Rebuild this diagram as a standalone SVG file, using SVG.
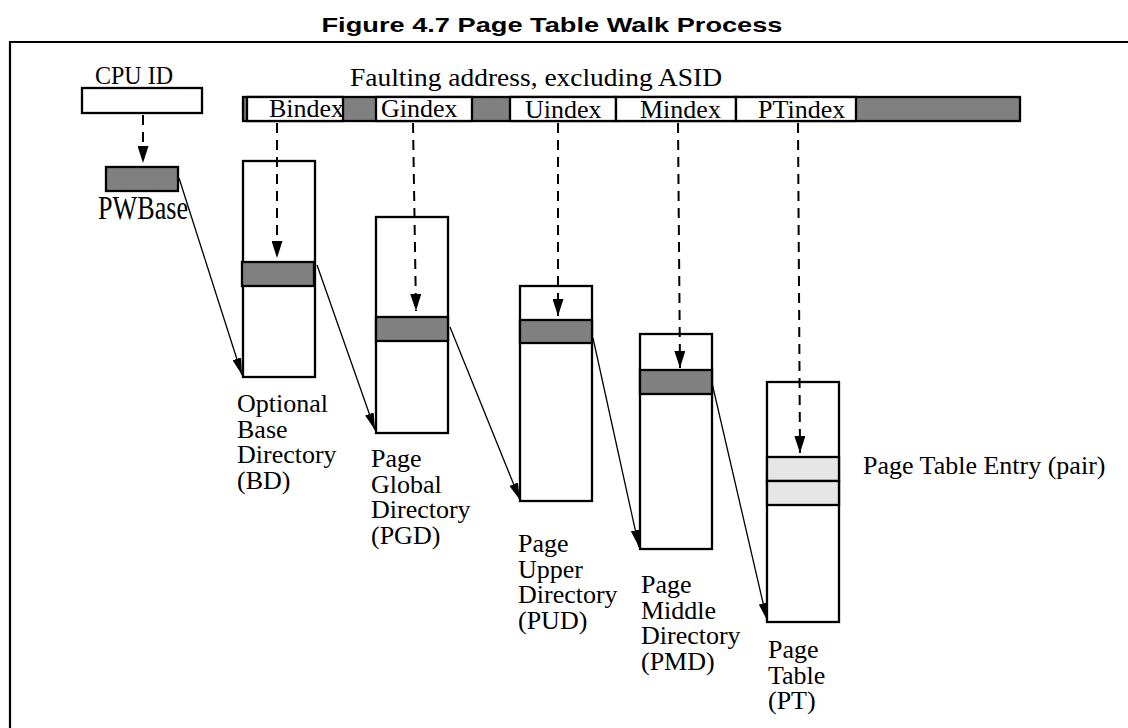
<svg xmlns="http://www.w3.org/2000/svg" width="1128" height="728" viewBox="0 0 1128 728">
<style>
.lbl{font-family:"Liberation Serif","Times New Roman",serif;font-size:26px;fill:#000}
.title{font-family:"Liberation Sans",Arial,sans-serif;font-size:21px;font-weight:bold;fill:#000}
.box{fill:#fff;stroke:#000;stroke-width:2.3}
.dark{fill:#808080;stroke:#000;stroke-width:2.3}
.light{fill:#e6e6e6;stroke:#000;stroke-width:2.3}
.dash{stroke:#000;stroke-width:2;stroke-dasharray:10 7;fill:none}
.ptr{stroke:#000;stroke-width:1.3;fill:none}
</style>
<defs>
<marker id="ah" viewBox="0 0 17 11" refX="17" refY="5.5" markerWidth="17" markerHeight="11" markerUnits="userSpaceOnUse" orient="auto">
<path d="M0,0 L17,5.5 L0,11 z" fill="#000"/>
</marker>
<marker id="ah2" viewBox="0 0 17 9" refX="17" refY="4.5" markerWidth="17" markerHeight="9" markerUnits="userSpaceOnUse" orient="auto">
<path d="M0,0 L17,4.5 L0,9 z" fill="#000"/>
</marker>
</defs>
<rect width="1128" height="728" fill="#fff"/>
<text class="title" x="552" y="32" text-anchor="middle" textLength="461" lengthAdjust="spacingAndGlyphs">Figure 4.7  Page Table Walk Process</text>
<path d="M10,729 V42 H1128" fill="none" stroke="#000" stroke-width="2.2"/>

<g id="cpuid">
<text class="lbl" x="95" y="84" textLength="78" lengthAdjust="spacingAndGlyphs">CPU ID</text>
<rect class="box" x="82" y="88" width="120" height="25"/>
</g>

<g id="address">
<text class="lbl" x="350" y="86" textLength="372" lengthAdjust="spacingAndGlyphs">Faulting address, excluding ASID</text>
<rect class="dark" x="243" y="97" width="777" height="24"/>
<rect class="box" x="247" y="97" width="96" height="24"/>
<rect class="box" x="376" y="97" width="96" height="24"/>
<rect class="box" x="510" y="97" width="106" height="24"/>
<rect class="box" x="616" y="97" width="120" height="24"/>
<rect class="box" x="736" y="97" width="120" height="24"/>
<text class="lbl" x="269" y="117">Bindex</text>
<text class="lbl" x="381" y="117">Gindex</text>
<text class="lbl" x="525" y="118">Uindex</text>
<text class="lbl" x="640" y="118">Mindex</text>
<text class="lbl" x="758" y="118">PTindex</text>
</g>

<g id="pwbase">
<rect class="dark" x="106" y="167" width="72" height="24"/>
<text class="lbl" x="98" y="219" style="font-size:34px" textLength="90" lengthAdjust="spacingAndGlyphs">PWBase</text>
</g>

<g id="bd">
<rect class="box" x="243" y="161" width="72" height="216"/>
<rect class="dark" x="242" y="262" width="72" height="24"/>
<text class="lbl" x="237" y="412"><tspan x="237">Optional</tspan><tspan x="237" dy="25.5">Base</tspan><tspan x="237" dy="25.5">Directory</tspan><tspan x="237" dy="25.5">(BD)</tspan></text>
</g>

<g id="pgd">
<rect class="box" x="376" y="217" width="72" height="216"/>
<rect class="dark" x="376" y="317" width="72" height="24"/>
<text class="lbl" x="371" y="467"><tspan x="371">Page</tspan><tspan x="371" dy="25.5">Global</tspan><tspan x="371" dy="25.5">Directory</tspan><tspan x="371" dy="25.5">(PGD)</tspan></text>
</g>

<g id="pud">
<rect class="box" x="520" y="286" width="72" height="215"/>
<rect class="dark" x="520" y="320" width="72" height="23"/>
<text class="lbl" x="518" y="552"><tspan x="518">Page</tspan><tspan x="518" dy="25.5">Upper</tspan><tspan x="518" dy="25.5">Directory</tspan><tspan x="518" dy="25.5">(PUD)</tspan></text>
</g>

<g id="pmd">
<rect class="box" x="640" y="334" width="72" height="215"/>
<rect class="dark" x="640" y="370" width="72" height="24"/>
<text class="lbl" x="641" y="593"><tspan x="641">Page</tspan><tspan x="641" dy="25.5">Middle</tspan><tspan x="641" dy="25.5">Directory</tspan><tspan x="641" dy="25.5">(PMD)</tspan></text>
</g>

<g id="pt">
<rect class="box" x="767" y="382" width="72" height="240"/>
<rect class="light" x="767" y="457" width="72" height="24"/>
<rect class="light" x="767" y="481" width="72" height="24"/>
<text class="lbl" x="768" y="658"><tspan x="768">Page</tspan><tspan x="768" dy="25.5">Table</tspan><tspan x="768" dy="25.5">(PT)</tspan></text>
<text class="lbl" x="863" y="474">Page Table Entry (pair)</text>
</g>

<g id="connectors">
<line class="dash" x1="143" y1="115" x2="143" y2="163" marker-end="url(#ah)"/>
<line class="dash" x1="277" y1="123" x2="277" y2="258" marker-end="url(#ah)"/>
<line class="dash" x1="413" y1="123" x2="416" y2="311" marker-end="url(#ah)"/>
<line class="dash" x1="558" y1="123" x2="558" y2="316" marker-end="url(#ah)"/>
<line class="dash" x1="678" y1="123" x2="680" y2="368" marker-end="url(#ah)"/>
<line class="dash" x1="798" y1="123" x2="800" y2="453" marker-end="url(#ah)"/>
<line class="ptr" x1="179" y1="178" x2="242" y2="375" marker-end="url(#ah2)"/>
<line class="ptr" x1="317" y1="265" x2="375" y2="430" marker-end="url(#ah2)"/>
<line class="ptr" x1="450" y1="327" x2="520" y2="500" marker-end="url(#ah2)"/>
<line class="ptr" x1="593" y1="338" x2="639" y2="547" marker-end="url(#ah2)"/>
<line class="ptr" x1="712" y1="383" x2="767" y2="620" marker-end="url(#ah2)"/>
</g>
</svg>
